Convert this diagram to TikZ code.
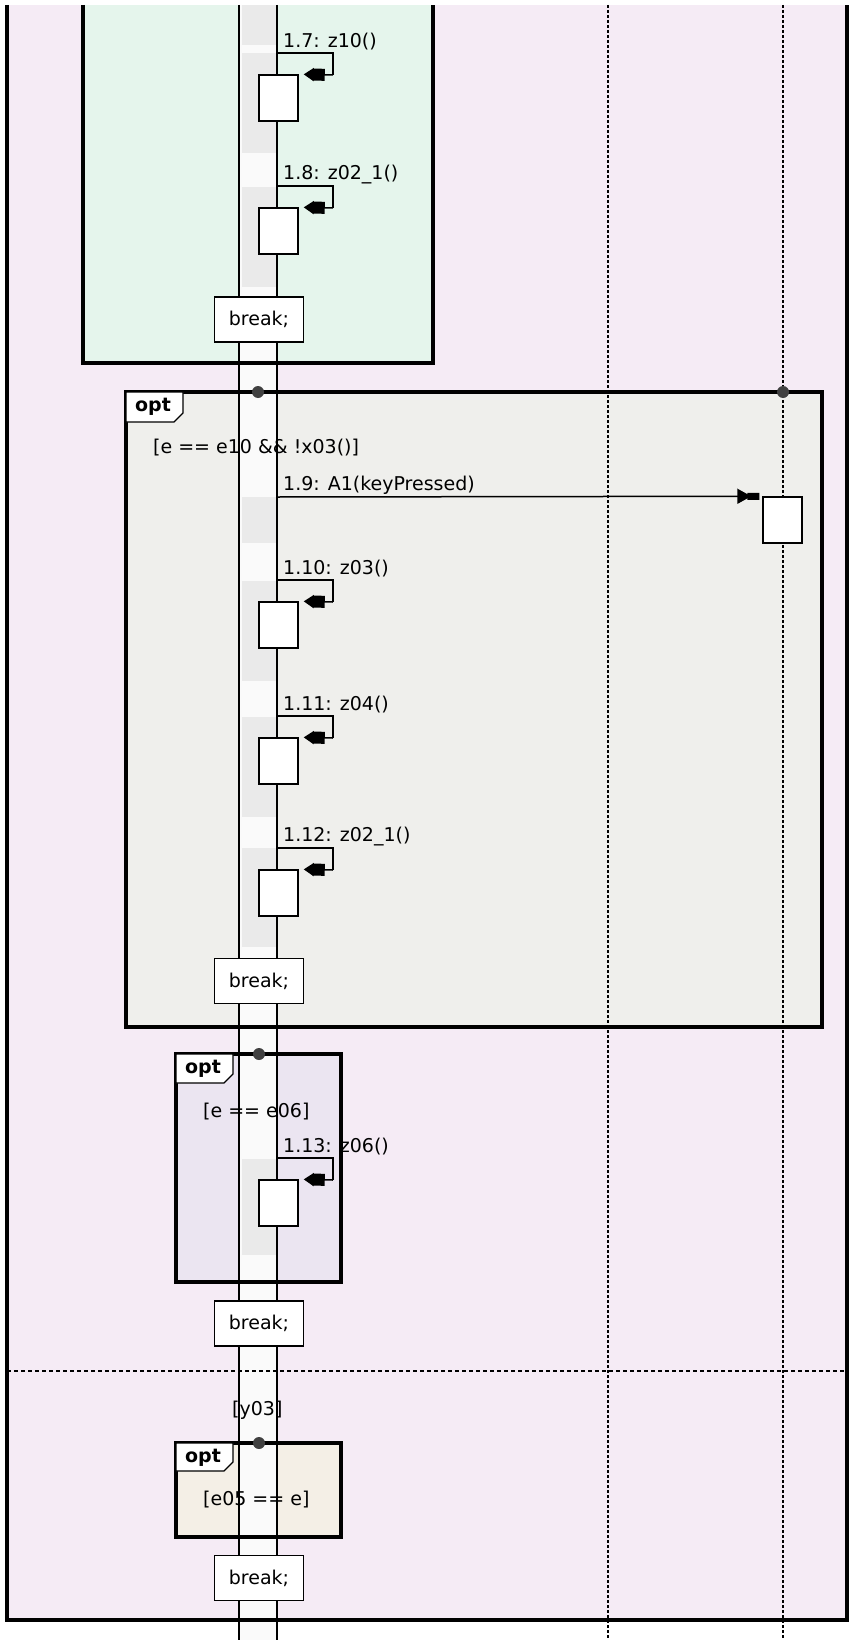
\documentclass[tikz,border=0pt]{standalone}
\usepackage{fontspec}
\setmainfont{DejaVu Sans}
\usetikzlibrary{arrows.meta}
\definecolor{bgpink}{RGB}{245,235,245}
\definecolor{optgreen}{RGB}{229,245,236}
\definecolor{optgrey}{RGB}{239,239,236}
\definecolor{optlav}{RGB}{235,229,241}
\definecolor{optbeige}{RGB}{244,239,230}
\definecolor{bandgrey}{RGB}{234,234,234}
\definecolor{colwhite}{RGB}{250,250,250}
\definecolor{dotgrey}{RGB}{64,64,64}
\tikzset{
  framebox/.style={line width=3.2pt},
  actbox/.style={draw, fill=white, line width=1.5pt, minimum width=39pt, minimum height=46pt, inner sep=0pt},
  brkbox/.style={draw, fill=white, line width=1.2pt, minimum width=89pt, minimum height=45pt, inner sep=0pt},
  lbl/.style={anchor=west, inner sep=0pt},
  msgline/.style={line width=1.5pt},
  msgright/.style={line width=1.5pt, -{Triangle[length=14pt,width=15pt,sep=-4pt]Rectangle[length=12pt,width=7pt]}, shorten >=3pt},
  msgleft/.style={line width=1.5pt, -{Rectangle[length=12pt,width=12pt,sep=-1pt]Triangle[length=10pt,width=13pt]}, shorten >=5pt},
  fdot/.style={circle, fill=dotgrey, minimum size=12pt, inner sep=0pt},
  tabshape/.style={fill=white, draw, line width=1.2pt},
  optlbl/.style={inner sep=0pt, font=\fontsize{19}{22}\selectfont\bfseries},
  dashlife/.style={line width=1.6pt, dash pattern=on 3pt off 2pt},
  solidlife/.style={line width=1.5pt}
}
\begin{document}
\begin{tikzpicture}[x=1pt,y=-1pt,font=\fontsize{19}{22}\selectfont]
\useasboundingbox (0,0) rectangle (849,1640);
\fill[white] (0,0) rectangle (849,1640);
% outer frame background
\fill[bgpink] (7,5) rectangle (847,1620);
% fragment fills
\fill[optgreen] (83,5) rectangle (433,363);
\fill[optgrey] (126,392) rectangle (822,1027);
\fill[optlav] (176,1054) rectangle (341,1282);
\fill[optbeige] (176,1443) rectangle (341,1537);
% lifeline column
\fill[colwhite] (239,5) rectangle (277,1640);
\foreach \a/\b in {5/45, 53/153, 187/287, 497/543, 581/681, 717/817, 848/947, 1159/1255}
  \fill[bandgrey] (242,\a) rectangle (276,\b);
% lifelines
\coordinate (d1t) at (608,5); \coordinate (d1b) at (608,1640);
\coordinate (d2t) at (783,5); \coordinate (d2b) at (783,1640);
\coordinate (l1t) at (239,5); \coordinate (l1b) at (239,1640);
\coordinate (l2t) at (277,5); \coordinate (l2b) at (277,1640);
\draw[dashlife] (d1t) -- (d1b);
\draw[dashlife] (d2t) -- (d2b);
\draw[solidlife] (l1t) -- (l1b);
\draw[solidlife] (l2t) -- (l2b);
% fragment borders
\draw[framebox] (83,5) -- (83,363) -- (433,363) -- (433,5);
\draw[framebox] (126,392) rectangle (822,1027);
\draw[framebox] (176,1054) rectangle (341,1282);
\draw[framebox] (176,1443) rectangle (341,1537);
\draw[framebox] (7,5) -- (7,1620) -- (847,1620) -- (847,5);
\draw[line width=1.2pt, dash pattern=on 4pt off 3pt] (7,1371) -- (847,1371);
% tabs
\foreach \x/\y/\h/\n in {126/392/30/t1, 176/1054/29/t2, 176/1443/28/t3}{
  \draw[tabshape] (\x,\y) -- (\x+57,\y) -- (\x+57,\y+\h-9) -- (\x+48,\y+\h) -- (\x,\y+\h) -- cycle;
  \node[optlbl] (\n) at (\x+27,\y+15) {opt};
}
% dots
\node[fdot] (p1) at (258,392) {};
\node[fdot] (p2) at (783,392) {};
\node[fdot] (p3) at (259,1054) {};
\node[fdot] (p4) at (259,1443) {};
% guards
\node[lbl] (g1) at (153,448) {[e == e10 \&\& !x03()]};
\node[lbl] (g2) at (203,1112) {[e == e06]};
\node[lbl] (g3) at (232,1410) {[y03]};
\node[lbl] (g4) at (203,1500) {[e05 == e]};
% self messages
\foreach \L/\n/\t in {42/7/{1.7: z10()}, 175/8/{1.8: z02\_1()}, 569/10/{1.10: z03()}, 705/11/{1.11: z04()}, 837/12/{1.12: z02\_1()}, 1147/13/{1.13: z06()}}{
  \node[actbox] (b\n) at (278.5,\L+56) {};
  \coordinate (s\n) at (277,\L+11);
  \coordinate (c\n) at (333,\L+33);
  \draw[msgline] (s\n) -| (c\n);
  \draw[msgleft] (c\n) -- (b\n.north east);
  \node[lbl] (m\n) at (283,\L) {\t};
}
% message 1.9
\node[actbox] (b9) at (782.5,520) {};
\coordinate (s9) at (277,497);
\draw[msgright] (s9) -- (b9.north west);
\node[lbl] (m9) at (283,485) {1.9: A1(keyPressed)};
% break boxes
\node[brkbox] (k1) at (259,319.5) {break;};
\node[brkbox] (k2) at (259,981) {break;};
\node[brkbox] (k3) at (259,1323.5) {break;};
\node[brkbox] (k4) at (259,1578) {break;};
\end{tikzpicture}
\end{document}
